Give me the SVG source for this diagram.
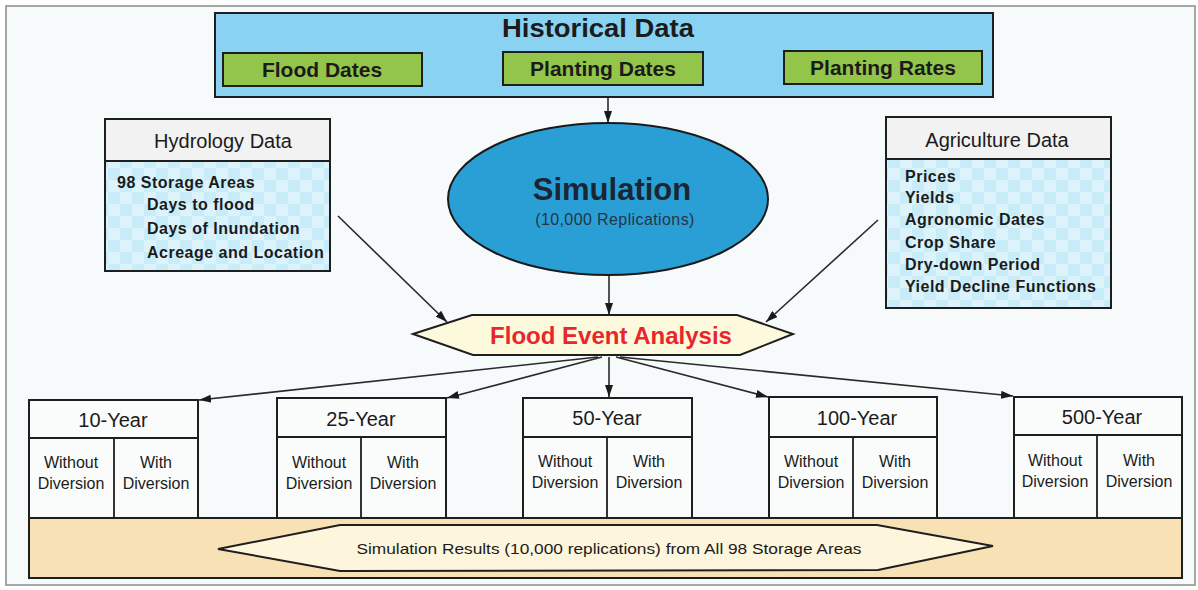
<svg xmlns="http://www.w3.org/2000/svg" width="1198" height="590" viewBox="0 0 1198 590">
  <defs>
    <style>
      .frame{fill:#f6fafb;stroke:#8a8a8a;stroke-width:1.5}
      .box{stroke:#1e1e1e;stroke-width:2}
      .thin{stroke:#1e1e1e;stroke-width:1.8;fill:none}
      .conn{stroke:#2a2a2a;stroke-width:1.6;fill:none;marker-end:url(#arr)}
      .t{font-family:"Liberation Sans",Arial,sans-serif;fill:#1b1b1b}
      .b{font-weight:bold}
      .hd{font-size:20px;text-anchor:middle}
      .li{font-size:16px;font-weight:bold;letter-spacing:0.5px}
      .yr{font-size:20px;text-anchor:middle}
      .cl{font-size:16px;text-anchor:middle}
      .gr{font-size:21px;font-weight:bold;text-anchor:middle}
      .red{fill:#e8262b}
      .simt{fill:#1a2633}
      .sims{fill:#263544}
    </style>
    <pattern id="check" width="24" height="24" patternUnits="userSpaceOnUse">
      <rect width="24" height="24" fill="#c9ecf9"/>
      <rect width="12" height="12" fill="#dcf3fc"/>
      <rect x="12" y="12" width="12" height="12" fill="#dcf3fc"/>
    </pattern>
    <marker id="arr" viewBox="0 0 12 8" refX="12" refY="4" markerWidth="12" markerHeight="8" markerUnits="userSpaceOnUse" orient="auto">
      <path d="M0,0 L12,4 L0,8 Z" fill="#1a1a1a"/>
    </marker>
  </defs>

  <rect class="frame" x="6" y="6" width="1189" height="579"/>

  <g id="connectors">
    <line class="conn" x1="608" y1="97" x2="608" y2="123"/>
    <line class="conn" x1="609" y1="276" x2="609" y2="315"/>
    <line class="conn" x1="338" y1="216" x2="447" y2="322"/>
    <line class="conn" x1="878" y1="220" x2="766" y2="322"/>
    <line class="conn" x1="598" y1="357" x2="199" y2="400"/>
    <line class="conn" x1="602" y1="357" x2="447" y2="398"/>
    <line class="conn" x1="609" y1="357" x2="609" y2="397"/>
    <line class="conn" x1="616" y1="357" x2="768" y2="397"/>
    <line class="conn" x1="620" y1="357" x2="1013" y2="396"/>
  </g>

  <g id="historical-data">
    <rect class="box" x="215" y="13" width="778" height="84" fill="#8ad2f2"/>
    <text class="t b" x="598" y="37" font-size="26" text-anchor="middle" textLength="192" lengthAdjust="spacingAndGlyphs">Historical Data</text>
  </g>
  <g id="flood-dates">
    <rect class="box" x="223" y="53" width="199" height="33" fill="#93c54a"/>
    <text class="t gr" x="322" y="77">Flood Dates</text>
  </g>
  <g id="planting-dates">
    <rect class="box" x="503" y="52" width="200" height="33" fill="#93c54a"/>
    <text class="t gr" x="603" y="76">Planting Dates</text>
  </g>
  <g id="planting-rates">
    <rect class="box" x="784" y="51" width="198" height="33" fill="#93c54a"/>
    <text class="t gr" x="883" y="75">Planting Rates</text>
  </g>

  <g id="hydrology-data">
    <rect class="box" x="105" y="119" width="225" height="152" fill="url(#check)"/>
    <rect class="box" x="105" y="119" width="225" height="42" fill="#f1f2f1"/>
    <text class="t hd" x="223" y="148">Hydrology Data</text>
    <text class="t li" x="117" y="188">98 Storage Areas</text>
    <text class="t li" x="147" y="210">Days to flood</text>
    <text class="t li" x="147" y="234">Days of Inundation</text>
    <text class="t li" x="147" y="258">Acreage and Location</text>
  </g>

  <g id="agriculture-data">
    <rect class="box" x="886" y="117" width="225" height="191" fill="url(#check)"/>
    <rect class="box" x="886" y="117" width="225" height="42" fill="#f1f2f1"/>
    <text class="t hd" x="997" y="147">Agriculture Data</text>
    <text class="t li" x="905" y="182">Prices</text>
    <text class="t li" x="905" y="203">Yields</text>
    <text class="t li" x="905" y="225">Agronomic Dates</text>
    <text class="t li" x="905" y="248">Crop Share</text>
    <text class="t li" x="905" y="270">Dry-down Period</text>
    <text class="t li" x="905" y="292">Yield Decline Functions</text>
  </g>

  <g id="simulation">
    <ellipse cx="608" cy="199" rx="160" ry="76" fill="#2a9fd6" stroke="#1a1a1a" stroke-width="2"/>
    <text class="t b simt" x="612" y="200" font-size="31" text-anchor="middle">Simulation</text>
    <text class="t sims" x="615" y="225" font-size="16" text-anchor="middle" letter-spacing="0.4">(10,000 Replications)</text>
  </g>

  <g id="flood-event-analysis">
    <polygon class="box" points="413,334 472,315 737,315 793,334 740,355 473,355" fill="#fdf9dc"/>
    <text class="t b red" x="611" y="344" font-size="24" text-anchor="middle">Flood Event Analysis</text>
  </g>

  <g id="results-band">
    <rect class="box" x="29" y="518" width="1153" height="60" fill="#f8e2b5"/>
    <polygon class="box" points="218,549 340,525 877,525 993,546 878,570 340,571" fill="#fdf5dc"/>
    <text class="t" x="609" y="554" font-size="15" text-anchor="middle" textLength="505" lengthAdjust="spacingAndGlyphs">Simulation Results (10,000 replications) from All 98 Storage Areas</text>
  </g>

  <g id="year-10">
    <rect class="box" x="29" y="400" width="169" height="118" fill="#fafcfc"/>
    <line class="thin" x1="29" y1="438" x2="198" y2="438"/>
    <line class="thin" x1="114" y1="438" x2="114" y2="518"/>
    <text class="t yr" x="113" y="427">10-Year</text>
    <text class="t cl" x="71" y="468">Without</text>
    <text class="t cl" x="71" y="489">Diversion</text>
    <text class="t cl" x="156" y="468">With</text>
    <text class="t cl" x="156" y="489">Diversion</text>
  </g>

  <g id="year-25">
    <rect class="box" x="277" y="398" width="169" height="120" fill="#fafcfc"/>
    <line class="thin" x1="277" y1="437" x2="446" y2="437"/>
    <line class="thin" x1="361" y1="437" x2="361" y2="518"/>
    <text class="t yr" x="361" y="426">25-Year</text>
    <text class="t cl" x="319" y="468">Without</text>
    <text class="t cl" x="319" y="489">Diversion</text>
    <text class="t cl" x="403" y="468">With</text>
    <text class="t cl" x="403" y="489">Diversion</text>
  </g>

  <g id="year-50">
    <rect class="box" x="523" y="398" width="169" height="120" fill="#fafcfc"/>
    <line class="thin" x1="523" y1="437" x2="692" y2="437"/>
    <line class="thin" x1="607" y1="437" x2="607" y2="518"/>
    <text class="t yr" x="607" y="425">50-Year</text>
    <text class="t cl" x="565" y="467">Without</text>
    <text class="t cl" x="565" y="488">Diversion</text>
    <text class="t cl" x="649" y="467">With</text>
    <text class="t cl" x="649" y="488">Diversion</text>
  </g>

  <g id="year-100">
    <rect class="box" x="769" y="397" width="168" height="121" fill="#fafcfc"/>
    <line class="thin" x1="769" y1="437" x2="937" y2="437"/>
    <line class="thin" x1="853" y1="437" x2="853" y2="518"/>
    <text class="t yr" x="857" y="425">100-Year</text>
    <text class="t cl" x="811" y="467">Without</text>
    <text class="t cl" x="811" y="488">Diversion</text>
    <text class="t cl" x="895" y="467">With</text>
    <text class="t cl" x="895" y="488">Diversion</text>
  </g>

  <g id="year-500">
    <rect class="box" x="1014" y="397" width="168" height="121" fill="#fafcfc"/>
    <line class="thin" x1="1014" y1="435" x2="1182" y2="435"/>
    <line class="thin" x1="1097" y1="435" x2="1097" y2="518"/>
    <text class="t yr" x="1102" y="424">500-Year</text>
    <text class="t cl" x="1055" y="466">Without</text>
    <text class="t cl" x="1055" y="487">Diversion</text>
    <text class="t cl" x="1139" y="466">With</text>
    <text class="t cl" x="1139" y="487">Diversion</text>
  </g>
</svg>
